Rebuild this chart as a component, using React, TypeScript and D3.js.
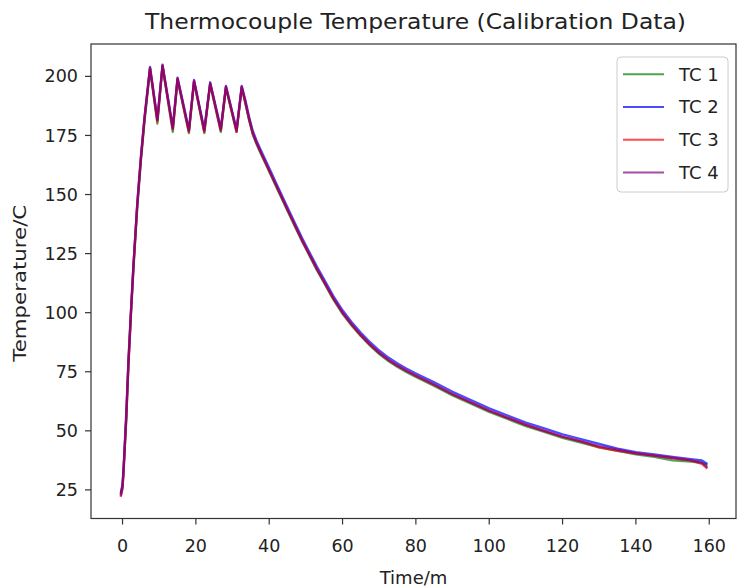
import React from "react";
import * as d3 from "d3";

const title = "Thermocouple Temperature (Calibration Data)";
const xLabel = "Time/m";
const yLabel = "Temperature/C";
const xTicks = [0, 20, 40, 60, 80, 100, 120, 140, 160];
const yTicks = [25, 50, 75, 100, 125, 150, 175, 200];
const seriesNames = ["TC 1", "TC 2", "TC 3", "TC 4"];
const seriesColors = ["#008000", "#0000ff", "#ff0000", "#800080"];

const time = [-0.5, 0, 0.3, 1, 1.6, 2.3, 3, 4, 5, 6, 7.5, 9.5, 10.9, 13.7, 15, 18.1, 19.5, 22.3, 23.9, 26.8, 28.2, 31.1, 32.5,
  33.5, 34.5, 35.5, 36.5, 37.5, 39, 40.5, 42, 43.5, 45, 47, 49, 51, 53, 55, 57.5, 60, 62.5, 65, 67.5, 70, 72.5, 75, 77.5, 80,
  85, 90, 95, 100, 105, 110, 115, 120, 125, 130, 135, 140, 145, 150, 155, 158, 159.5];

const tc1 = [23, 27, 34, 54, 77, 99, 119, 144, 164, 181, 203, 180, 204, 176.5, 198.5, 176, 197.5, 176, 196.5, 176.5, 195, 176.5, 195,
  188.5, 181.5, 175.5, 171.5, 168, 163, 158, 153, 148, 143, 136.5, 130, 124, 118, 112.5, 105.5, 99.5, 94.5, 90, 86, 82.5, 79.5, 77, 74.8, 72.8,
  69, 65, 61.5, 58, 55, 52, 49.5, 47, 45, 43, 41.5, 40, 39, 37.5, 37, 36.5, 35.5];
const tc2 = [23.5, 27.5, 35, 57, 80, 101, 121, 146, 166, 183, 204, 182, 205, 178.5, 199.5, 177.5, 198.5, 177.5, 197.5, 178, 196, 177.5, 196,
  190, 183, 177, 173, 169.5, 164.5, 159.5, 154.5, 149.5, 144.5, 138, 131.5, 125.5, 119.5, 114, 107, 101, 96, 91.5, 87.5, 84, 81, 78.5, 76.3, 74.3,
  70.5, 66.5, 63, 59.5, 56.5, 53.5, 51, 48.5, 46.5, 44.5, 42.5, 41, 40, 39, 38, 37.5, 36];
const tc3 = [22, 25.5, 33.5, 55.5, 78.5, 100.5, 120.5, 145.5, 165.5, 182.5, 203.5, 181, 204.5, 177.5, 199, 176.5, 198, 176.5, 197, 177, 195.5, 176.5, 195.5,
  189, 182, 176, 172, 168.5, 163.5, 158.5, 153.5, 148.5, 143.5, 137, 130.5, 124.5, 118.5, 113, 106, 100, 95, 90.5, 86.5, 83, 80, 77.5, 75.3, 73.3,
  69.5, 65.5, 62, 58.5, 55.5, 52.5, 50, 47.5, 45.5, 43, 41.5, 40.5, 39.5, 38.5, 37.5, 36, 34];
const tc4 = [22.5, 26, 33, 55, 78, 100, 120, 145, 165, 182, 203.5, 181.5, 204.5, 178, 199, 177, 198, 177, 197, 177.5, 195.5, 177, 195.5,
  189, 182, 176, 172, 168.5, 163.5, 158.5, 153.5, 148.5, 143.5, 137, 130.5, 124.5, 118.5, 113, 106, 100, 95, 90.5, 86.5, 83, 80, 77.5, 75.3, 73.3,
  69.5, 65.5, 62, 58.5, 55.5, 52.5, 50, 47.5, 45.5, 43.5, 42, 40.5, 39.5, 38.5, 37.5, 36.5, 34.5];

const seriesValues = [tc1, tc2, tc3, tc4];

export default function App() {
  const W = 737;
  const H = 588;
  const left = 91;
  const right = 736;
  const top = 44;
  const bottom = 518.5;
  const font = "'DejaVu Sans', sans-serif";
  const fs = 17.5;

  const x = d3.scaleLinear().domain([-8.6, 167.3]).range([left, right]);
  const y = d3.scaleLinear().domain([12.9, 213.7]).range([bottom, top]);

  const line = d3
    .line<number>()
    .x((_, i) => x(time[i]))
    .y((v) => y(v));

  return (
    <svg
      width={W}
      height={H}
      style={{ position: "absolute", left: 0, top: 0, background: "#fff" }}
      fontFamily={font}
    >
      <rect x={0} y={0} width={W} height={H} fill="#fff" />
      <text
        x={(left + right) / 2 + 2}
        y={29}
        textAnchor="middle"
        fontSize={22}
        fill="#222"
        textLength={541}
        lengthAdjust="spacingAndGlyphs"
      >
        {title}
      </text>

      <g>
        {seriesValues.map((vals, i) => (
          <path
            key={i}
            d={line(vals) || ""}
            fill="none"
            stroke={seriesColors[i]}
            strokeOpacity={0.7}
            strokeWidth={2.3}
            strokeLinejoin="round"
          />
        ))}
      </g>

      <rect
        x={left}
        y={top}
        width={right - left}
        height={bottom - top}
        fill="none"
        stroke="#333"
        strokeWidth={1.2}
      />

      {xTicks.map((t) => (
        <g key={"x" + t}>
          <line x1={x(t)} x2={x(t)} y1={bottom} y2={bottom + 6} stroke="#333" strokeWidth={1.2} />
          <text x={x(t)} y={bottom + 33} textAnchor="middle" fontSize={fs} fill="#222">
            {t}
          </text>
        </g>
      ))}
      {yTicks.map((t) => (
        <g key={"y" + t}>
          <line x1={left - 6} x2={left} y1={y(t)} y2={y(t)} stroke="#333" strokeWidth={1.2} />
          <text x={left - 13} y={y(t)} dy="0.35em" textAnchor="end" fontSize={fs} fill="#222">
            {t}
          </text>
        </g>
      ))}

      <text x={(left + right) / 2} y={584} textAnchor="middle" fontSize={18} fill="#222">
        {xLabel}
      </text>
      <text
        transform={`translate(26, ${(top + bottom) / 2 + 2}) rotate(-90)`}
        textAnchor="middle"
        fontSize={18}
        fill="#222"
        textLength={157}
        lengthAdjust="spacingAndGlyphs"
      >
        {yLabel}
      </text>

      <rect x={617} y={57} width={111} height={135} rx={4} fill="#fff" fillOpacity={0.8} stroke="#ccc" strokeWidth={1} />
      {seriesNames.map((name, i) => {
        const ly = 74.3 + i * 32.7;
        return (
          <g key={name}>
            <line x1={623} x2={664} y1={ly} y2={ly} stroke={seriesColors[i]} strokeOpacity={0.7} strokeWidth={2} />
            <text x={679} y={ly} dy="0.35em" fontSize={18} fill="#222">
              {name}
            </text>
          </g>
        );
      })}
    </svg>
  );
}
